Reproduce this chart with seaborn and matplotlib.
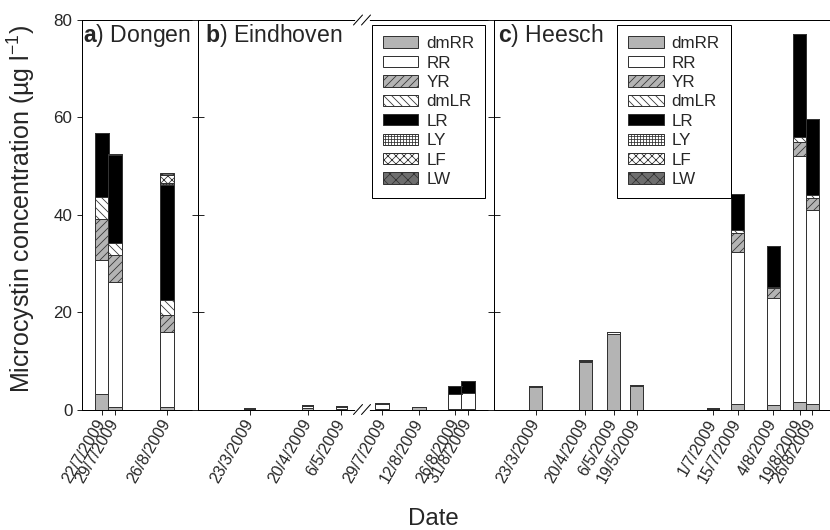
import numpy as np
import pandas as pd
import seaborn as sns
import matplotlib.pyplot as plt
from matplotlib.patches import Patch
from matplotlib.lines import Line2D

# Data (µg/l)
components = ["dmRR", "RR", "YR", "dmLR", "LR", "LY", "LF", "LW"]

dongen_dates = ["22/7/2009", "29/7/2009", "26/8/2009"]
dongen = {
    "dmRR": [3.2, 0.5, 0.5],
    "RR": [27.6, 25.6, 15.4],
    "YR": [8.4, 5.7, 3.6],
    "dmLR": [4.4, 2.5, 2.9],
    "LR": [13.1, 17.9, 23.8],
    "LY": [0.0, 0.0, 0.3],
    "LF": [0.0, 0.3, 1.6],
    "LW": [0.0, 0.0, 0.5],
}

eindhoven_dates = ["23/3/2009", "20/4/2009", "6/5/2009", "29/7/2009",
                   "12/8/2009", "26/8/2009", "31/8/2009"]
eindhoven = {
    "dmRR": [0.1, 0.3, 0.2, 0.1, 0.6, 0.1, 0.1],
    "RR": [0.1, 0.5, 0.4, 1.0, 0.0, 3.0, 3.3],
    "YR": [0, 0, 0, 0, 0, 0, 0],
    "dmLR": [0, 0, 0, 0, 0, 0, 0],
    "LR": [0.1, 0.2, 0.1, 0.3, 0.0, 1.7, 2.4],
    "LY": [0, 0, 0, 0, 0, 0, 0],
    "LF": [0, 0, 0, 0, 0, 0, 0],
    "LW": [0, 0, 0, 0, 0, 0, 0],
}

heesch_dates = ["23/3/2009", "20/4/2009", "6/5/2009", "19/5/2009", "1/7/2009",
                "15/7/2009", "4/8/2009", "19/8/2009", "26/8/2009"]
heesch = {
    "dmRR": [4.6, 9.8, 15.5, 4.8, 0.2, 1.2, 0.9, 1.6, 1.2],
    "RR": [0.0, 0.1, 0.4, 0.3, 0.0, 31.1, 22.0, 50.5, 39.8],
    "YR": [0, 0, 0, 0, 0, 3.9, 2.0, 2.9, 2.4],
    "dmLR": [0, 0, 0, 0, 0, 0.6, 0.3, 0.9, 0.6],
    "LR": [0.2, 0.2, 0.0, 0.0, 0.1, 7.4, 8.4, 21.2, 15.6],
    "LY": [0, 0, 0, 0, 0, 0, 0, 0, 0],
    "LF": [0, 0, 0, 0, 0, 0, 0, 0, 0],
    "LW": [0, 0, 0, 0, 0, 0, 0, 0, 0],
}

# styles
face = {"dmRR": "#b4b4b4", "RR": "white", "YR": "#b4b4b4", "dmLR": "white",
        "LR": "black", "LY": "white", "LF": "white", "LW": "#6e6e6e"}
hatch = {"YR": "///", "dmLR": "\\\\\\", "LY": "++++", "LF": "xxx", "LW": "xx"}
edge = "#333333"

sns.set_style("ticks")
plt.rcParams["font.family"] = ["Liberation Sans", "DejaVu Sans"]
plt.rcParams["mathtext.fontset"] = "custom"
plt.rcParams["mathtext.rm"] = "Liberation Sans"
plt.rcParams["mathtext.bf"] = "Liberation Sans:bold"
plt.rcParams["hatch.linewidth"] = 0.8
plt.rcParams["axes.edgecolor"] = "black"
plt.rcParams["axes.linewidth"] = 1.0

W, H = 830, 530
fig = plt.figure(figsize=(W / 72, H / 72), dpi=72)
TOP, BOT = 20, 409.5


def make_axes(left, right):
    return fig.add_axes([left / W, 1 - BOT / H, (right - left) / W, (BOT - TOP) / H])


def day_of_year(dates):
    return np.array(pd.to_datetime(dates, format="%d/%m/%Y").dayofyear, dtype=float)


def draw_panel(ax, dates, values, bar_days, xlim):
    days = day_of_year(dates)
    width = bar_days / np.min(np.diff(np.sort(days)))
    bottom = np.zeros(len(days))
    for name in components:
        vals = np.array(values[name], dtype=float)
        sns.barplot(x=days, y=vals, native_scale=True, width=width, bottom=bottom,
                    color=face[name], hatch=hatch.get(name, ""), edgecolor=edge,
                    linewidth=1.0, saturation=1, errorbar=None, ax=ax)
        bottom = bottom + vals
    ax.set_xlim(*xlim)
    ax.set_ylim(0, 80)
    ax.set_xticks(days)
    ax.set_xticklabels(dates, rotation=60, ha="right", va="center",
                       rotation_mode="anchor", fontsize=16)
    ax.tick_params(axis="x", direction="out", length=5, width=1, pad=6, bottom=True)
    ax.set_xlabel("")
    ax.set_ylabel("")
    ax.spines["right"].set_visible(False)
    ax.spines["top"].set_visible(True)


ax_a = make_axes(81.5, 197.5)
ax_b1 = make_axes(197.5, 362)
ax_b2 = make_axes(362, 493.5)
ax_c = make_axes(493.5, 830)

draw_panel(ax_a, dongen_dates, dongen, 7.5, (192.2, 254.2))
draw_panel(ax_b1, eindhoven_dates[:3], {k: v[:3] for k, v in eindhoven.items()}, 5.3, (56.9, 136.1))
draw_panel(ax_b2, eindhoven_dates[3:], {k: v[3:] for k, v in eindhoven.items()}, 5.4, (202.2, 252.6))
draw_panel(ax_c, heesch_dates, heesch, 7.2, (58.2, 248.0))

ax_a.set_yticks([0, 20, 40, 60, 80])
ax_a.tick_params(axis="y", direction="out", length=5, width=1, pad=4, labelsize=17)
for ax in (ax_b1, ax_c):
    ax.set_yticks([0, 20, 40, 60, 80])
    ax.tick_params(axis="y", direction="inout", length=12, width=1, labelleft=False)
ax_b2.spines["left"].set_visible(False)
ax_b2.tick_params(axis="y", left=False, labelleft=False)

# panel titles
ax_a.text(0.016, 0.9435, r"$\mathbf{a}$) Dongen", transform=ax_a.transAxes, fontsize=23, va="baseline")
ax_b1.text(0.046, 0.9435, r"$\mathbf{b}$) Eindhoven", transform=ax_b1.transAxes, fontsize=23, va="baseline")
ax_c.text(0.014, 0.9435, r"$\mathbf{c}$) Heesch", transform=ax_c.transAxes, fontsize=23, va="baseline")

# legends
handles = [Patch(facecolor=face[n], edgecolor=edge, hatch=hatch.get(n, ""), linewidth=1.0)
           for n in components]
for ax, x0 in ((ax_b2, 0.074), (ax_c, 0.368)):
    leg = ax.legend(handles, components, loc="upper left", bbox_to_anchor=(x0, 0.987),
                    borderaxespad=0, fontsize=17, frameon=True, fancybox=False,
                    framealpha=1, edgecolor="black", handlelength=2.1, handleheight=0.65,
                    handletextpad=0.45, labelspacing=0.26, borderpad=0.65)
    leg.get_frame().set_linewidth(1.0)

# axis break marks in panel b
for ypx in (TOP, BOT):
    Y = H - ypx
    fig.add_artist(Line2D([356 / W, 368 / W], [Y / H, Y / H], color="white", lw=3))
    for ox in (-4, 4):
        x0 = 362 + ox
        fig.add_artist(Line2D([(x0 - 4.5) / W, (x0 + 4.5) / W], [(Y - 5) / H, (Y + 5) / H],
                              color="black", lw=1))

fig.text(22 / W, 1 - 209 / H, "Microcystin concentration (µg l$^{\\mathrm{-1}}$)",
         rotation=90, ha="center", va="center", fontsize=25)
fig.text(433 / W, 1 - 525 / H, "Date", ha="center", va="baseline", fontsize=24)

fig.savefig("out.png", dpi=72)
